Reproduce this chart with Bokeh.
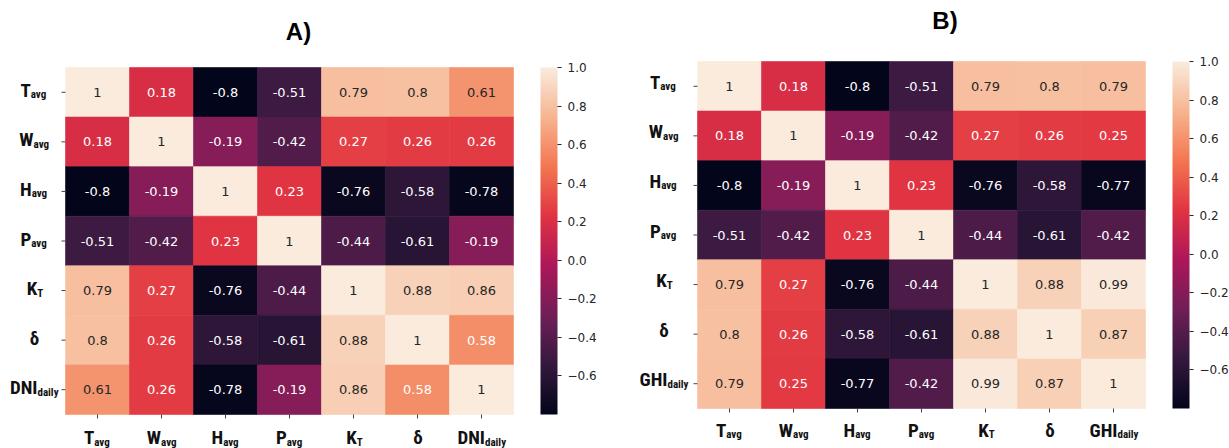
import numpy as np
from bokeh.plotting import figure
from bokeh.layouts import row
from bokeh.models import (ColumnDataSource, LinearColorMapper, ColorBar, FixedTicker,
                          CustomJSTickFormatter, Range1d)
from bokeh.core.properties import value
from bokeh.transform import transform
from bokeh.embed import file_html
from bokeh.resources import INLINE

# ---- data -------------------------------------------------------------
label_main_a = ["T", "W", "H", "P", "K", "δ", "DNI"]
label_sub_a = ["avg", "avg", "avg", "avg", "T", "", "daily"]
label_main_b = ["T", "W", "H", "P", "K", "δ", "GHI"]
label_sub_b = ["avg", "avg", "avg", "avg", "T", "", "daily"]

corr_a = [
    [1.00, 0.18, -0.80, -0.51, 0.79, 0.80, 0.61],
    [0.18, 1.00, -0.19, -0.42, 0.27, 0.26, 0.26],
    [-0.80, -0.19, 1.00, 0.23, -0.76, -0.58, -0.78],
    [-0.51, -0.42, 0.23, 1.00, -0.44, -0.61, -0.19],
    [0.79, 0.27, -0.76, -0.44, 1.00, 0.88, 0.86],
    [0.80, 0.26, -0.58, -0.61, 0.88, 1.00, 0.58],
    [0.61, 0.26, -0.78, -0.19, 0.86, 0.58, 1.00],
]
corr_b = [
    [1.00, 0.18, -0.80, -0.51, 0.79, 0.80, 0.79],
    [0.18, 1.00, -0.19, -0.42, 0.27, 0.26, 0.25],
    [-0.80, -0.19, 1.00, 0.23, -0.76, -0.58, -0.77],
    [-0.51, -0.42, 0.23, 1.00, -0.44, -0.61, -0.42],
    [0.79, 0.27, -0.76, -0.44, 1.00, 0.88, 0.99],
    [0.80, 0.26, -0.58, -0.61, 0.88, 1.00, 0.87],
    [0.79, 0.25, -0.77, -0.42, 0.99, 0.87, 1.00],
]
colorbar_ticks = [-0.6, -0.4, -0.2, 0.0, 0.2, 0.4, 0.6, 0.8, 1.0]

# ---- "rocket"-like sequential palette ----------------------------------
rocket_anchors = ["#03051a", "#35193e", "#701f57", "#ad1759",
                  "#e13342", "#f37651", "#f6b48f", "#faebdd"]


def hex_to_rgb(h):
    return np.array([int(h[i:i + 2], 16) for i in (1, 3, 5)], dtype=float)


anchor_rgb = np.array([hex_to_rgb(h) for h in rocket_anchors])
anchor_pos = np.linspace(0, 1, len(rocket_anchors))
grid = np.linspace(0, 1, 256)
palette = []
for t in grid:
    rgb = [np.interp(t, anchor_pos, anchor_rgb[:, k]) for k in range(3)]
    palette.append("#%02x%02x%02x" % tuple(int(round(c)) for c in rgb))


def rel_luminance(hexcol):
    c = hex_to_rgb(hexcol) / 255.0
    c = np.where(c <= 0.03928, c / 12.92, ((c + 0.055) / 1.055) ** 2.4)
    return 0.2126 * c[0] + 0.7152 * c[1] + 0.0722 * c[2]


# approximate advance widths (em) of the label font
CHAR_W = {"T": 0.55, "W": 0.85, "H": 0.65, "P": 0.60, "K": 0.65, "D": 0.65,
          "N": 0.65, "I": 0.25, "G": 0.70, "δ": 0.55, "a": 0.50, "v": 0.50,
          "g": 0.55, "d": 0.55, "i": 0.25, "l": 0.25, "y": 0.50}


def text_width(s, size):
    return sum(CHAR_W.get(ch, 0.5) for ch in s) * size


LABEL_FONT = value("Liberation Sans Narrow, Roboto Condensed, Noto Sans Condensed, "
                   "DejaVu Sans Condensed, Liberation Sans, sans-serif")
MAIN_SIZE = 19
SUB_SIZE = 11
SUB_DROP = 4.5          # subscript centre below the capital's centre
TICK_LEN = 4
CELL_W, CELL_H = 64, 347 / 7
HEIGHT = 448


def heatmap_panel(corr, mains, subs, title, width, left, top,
                  title_dx, title_dy, ylab_dx, ylab_dy, xlab_dy):
    n = len(mains)
    corr = np.array(corr)
    low, high = float(corr.min()), float(corr.max())
    mapper = LinearColorMapper(palette=palette, low=low, high=high)

    xs, ys, vals, texts, tcols = [], [], [], [], []
    for i in range(n):
        for j in range(n):
            v = corr[i, j]
            xs.append(j + 0.5)
            ys.append(i + 0.5)
            vals.append(v)
            texts.append(format(v, ".2g"))
            idx = min(int((v - low) / (high - low) * len(palette)), len(palette) - 1)
            tcols.append("#262626" if rel_luminance(palette[idx]) > 0.408 else "#ffffff")
    src = ColumnDataSource(dict(x=xs, y=ys, v=vals, t=texts, c=tcols))

    # the plotting frame fills the whole canvas; one data unit is one cell
    x_range = Range1d(-left / CELL_W, (width - left) / CELL_W)
    y_range = Range1d((HEIGHT - top) / CELL_H, -top / CELL_H)
    p = figure(width=width, height=HEIGHT, x_range=x_range, y_range=y_range,
               min_border=0, x_axis_location=None, y_axis_location=None,
               output_backend="svg", toolbar_location=None, tools="")
    p.grid.visible = False
    p.outline_line_color = None
    p.background_fill_color = "white"
    p.border_fill_color = "white"

    # cells: outline drawn in the fill colour so neighbouring cells leave no seam
    p.rect(x="x", y="y", width=1, height=1, source=src,
           fill_color=transform("v", mapper), line_color=transform("v", mapper),
           line_width=0.6)
    p.text(x="x", y="y", text="t", source=src, text_color="c",
           text_align="center", text_baseline="middle",
           text_font=value("DejaVu Sans"), text_font_size="13px")

    centers = [k + 0.5 for k in range(n)]
    # tick marks
    p.segment(x0=[-TICK_LEN / CELL_W] * n, x1=[0] * n, y0=centers, y1=centers,
              line_color="#444444", line_width=1)
    p.segment(x0=centers, x1=centers, y0=[n] * n, y1=[n + TICK_LEN / CELL_H] * n,
              line_color="#444444", line_width=1)

    # tick labels with subscripts: main part right-aligned, subscript left-aligned
    anchor = [(text_width(m, MAIN_SIZE) - text_width(s, SUB_SIZE)) / 2
              for m, s in zip(mains, subs)]
    ysrc = ColumnDataSource(dict(x=[0] * n, y=centers, m=mains, s=subs,
                                 dx=[ylab_dx + a for a in anchor]))
    xsrc = ColumnDataSource(dict(x=centers, y=[n] * n, m=mains, s=subs,
                                 dx=anchor))
    for s_, dy in ((ysrc, ylab_dy), (xsrc, xlab_dy)):
        p.text(x="x", y="y", text="m", source=s_, x_offset="dx", y_offset=dy,
               text_align="right", text_baseline="middle", text_font=LABEL_FONT,
               text_font_size=f"{MAIN_SIZE}px", text_font_style="bold",
               text_color="#111111")
        p.text(x="x", y="y", text="s", source=s_, x_offset="dx",
               y_offset=dy + SUB_DROP, text_align="left", text_baseline="middle",
               text_font=LABEL_FONT, text_font_size=f"{SUB_SIZE}px",
               text_font_style="bold", text_color="#111111")

    # panel title over the middle column
    p.text(x=[n / 2], y=[0], text=[title], x_offset=title_dx, y_offset=title_dy,
           text_align="center", text_baseline="middle",
           text_font=value("Liberation Sans"), text_font_size="24px",
           text_font_style="bold", text_color="#000000")

    bar_h = int(round(n * CELL_H))
    cb = ColorBar(color_mapper=mapper,
                  location=(left + n * CELL_W + 27, HEIGHT - top - bar_h),
                  width=17, height=bar_h, padding=0, margin=0,
                  ticker=FixedTicker(ticks=colorbar_ticks),
                  formatter=CustomJSTickFormatter(
                      code="return tick.toFixed(1).replace('-', '\u2212')"),
                  major_label_text_font="DejaVu Sans",
                  major_label_text_font_size="12px",
                  major_label_text_color="#262626",
                  major_tick_in=0, major_tick_out=4,
                  major_tick_line_color="#262626",
                  minor_tick_line_color=None, label_standoff=6,
                  bar_line_color=None, border_line_color=None,
                  background_fill_color=None)
    p.add_layout(cb, "center")
    return p


pa = heatmap_panel(corr_a, label_main_a, label_sub_a, "A)", 620, 65, 67,
                   9, -36, -31.5, -2, 23)
pb = heatmap_panel(corr_b, label_main_b, label_sub_b, "B)", 609, 77, 61,
                   23.5, -41, -34, -4, 21.5)

layout = row(pa, pb, spacing=0)
open("out.html", "w").write(file_html(layout, INLINE))
